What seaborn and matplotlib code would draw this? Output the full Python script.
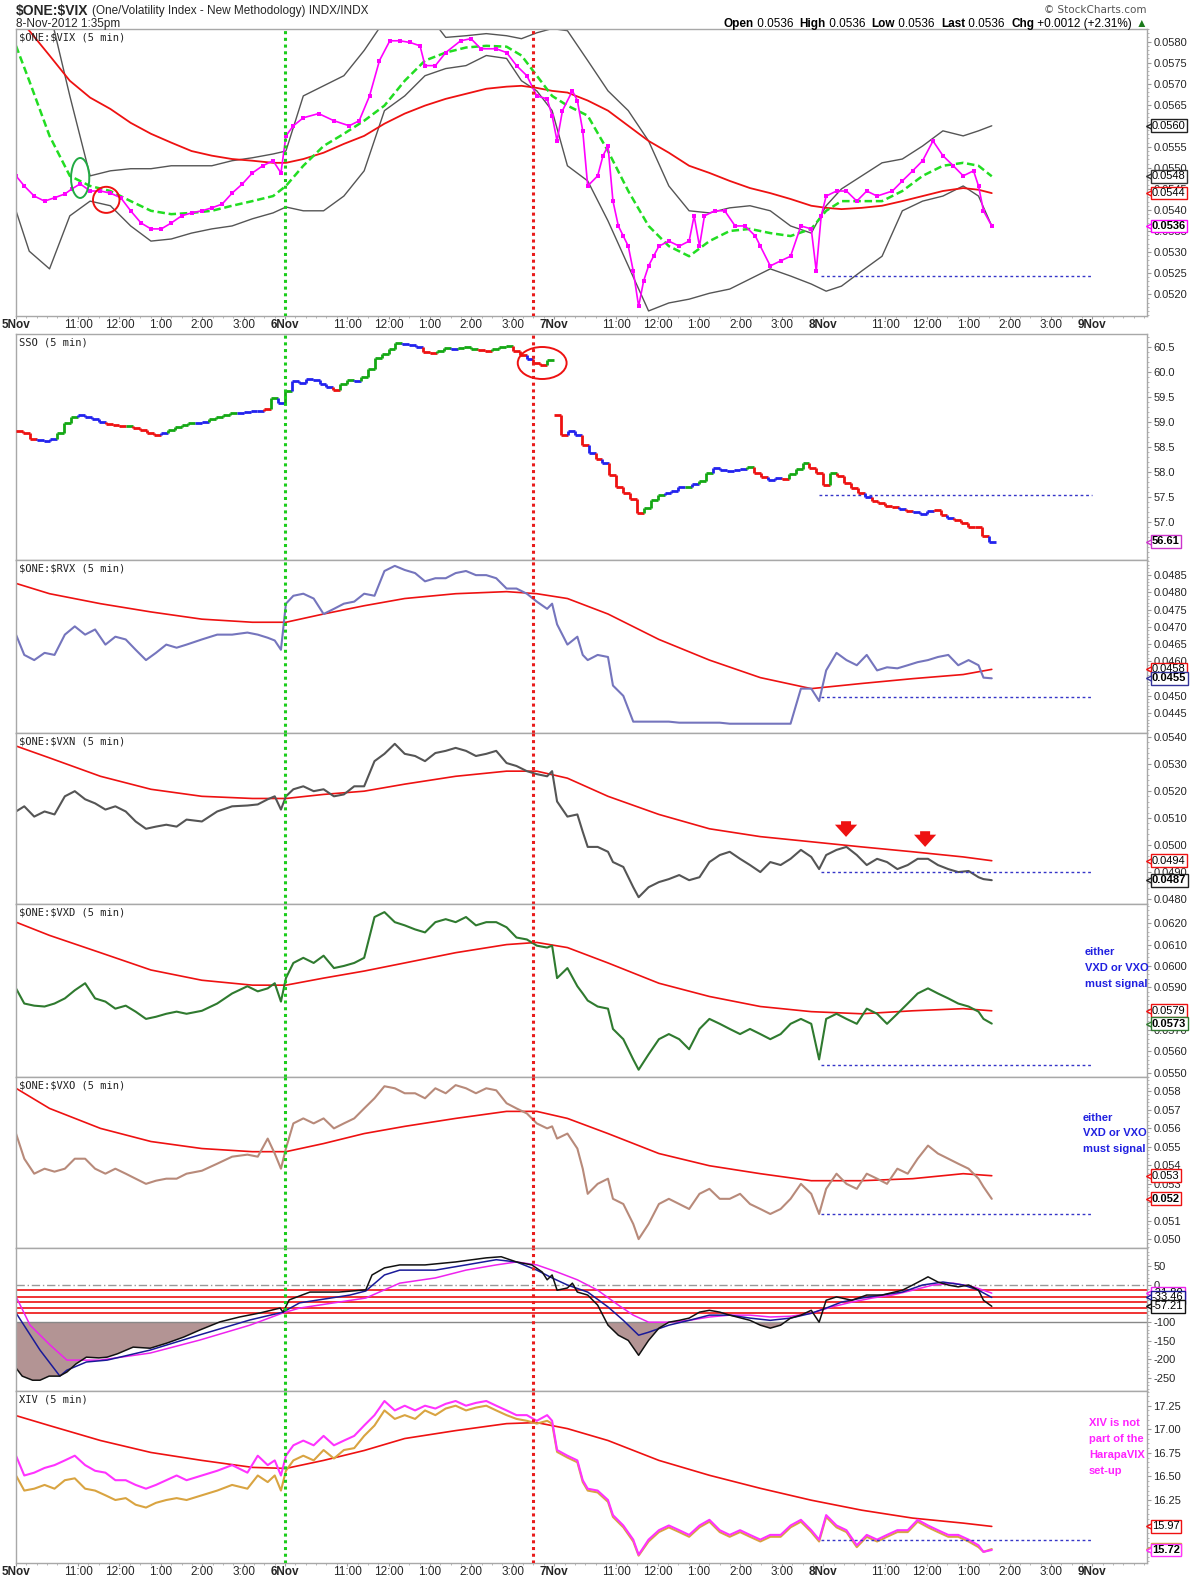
import numpy as np
import matplotlib
matplotlib.use("Agg")
import matplotlib.pyplot as plt
import matplotlib.transforms as mtransforms
from matplotlib.patches import Ellipse
from matplotlib.ticker import FixedLocator, AutoMinorLocator, MultipleLocator, FormatStrFormatter
import seaborn as sns

sns.set_theme(style="white")
plt.rcParams["font.family"] = ["Liberation Sans", "DejaVu Sans"]

# ---------------------------------------------------------------- data
DAY_LABELS = ["5Nov", "6Nov", "7Nov", "8Nov", "9Nov"]
HOUR_LABELS = ["11:00", "12:00", "1:00", "2:00", "3:00"]
HOUR_OFFSETS = [1.5, 2.5, 3.5, 4.5, 5.5]      # trading hours after 9:30
SESSION_HOURS = 6.5
XMAX = 27.32
GREEN_VLINE_T = 6.5
RED_VLINE_T = 12.5
SUPPORT_START_T = 19.45
SUPPORT_END_T = 26.0

HDR_OPEN, HDR_HIGH, HDR_LOW, HDR_LAST = 0.0536, 0.0536, 0.0536, 0.0536
HDR_CHG, HDR_CHG_PCT = 0.0012, 2.31

# ---- panel 1: $ONE:$VIX
VIX_T = [0, 0.20, 0.44, 0.69, 0.93, 1.18, 1.35, 1.55, 1.79, 2.04,
         2.28, 2.53, 2.77, 3.02, 3.26, 3.51, 3.75, 4.00, 4.24, 4.49,
         4.73, 4.98, 5.22, 5.47, 5.71, 5.96, 6.21, 6.40, 6.52, 6.70,
         6.94, 7.31, 7.68, 8.05, 8.29, 8.54, 8.78, 9.03, 9.27, 9.52,
         9.76, 9.88, 10.13, 10.38, 10.74, 10.99, 11.23, 11.60, 11.85, 12.09,
         12.34, 12.58, 12.83, 12.95, 13.07, 13.20, 13.44, 13.56, 13.69, 13.81,
         14.05, 14.18, 14.30, 14.42, 14.55, 14.67, 14.79, 14.91, 15.04, 15.16,
         15.28, 15.40, 15.53, 15.77, 16.02, 16.26, 16.38, 16.51, 16.63, 16.88,
         17.12, 17.37, 17.61, 17.86, 17.98, 18.22, 18.47, 18.71, 18.96, 19.21,
         19.33, 19.45, 19.57, 19.82, 20.06, 20.31, 20.55, 20.80, 21.17, 21.41,
         21.66, 21.90, 22.15, 22.39, 22.64, 22.88, 23.13, 23.25, 23.37, 23.57]
VIX_V = [.05481, .05457, .05433, .05421, .05429, .05438, .05450, .05462, .05445, .05445,
         .05440, .05429, .05398, .05369, .05355, .05355, .05369, .05386, .05393, .05398,
         .05405, .05414, .05440, .05462, .05488, .05505, .05517, .05488, .05576, .05600,
         .05619, .05629, .05612, .05600, .05612, .05671, .05755, .05802, .05802, .05798,
         .05790, .05743, .05743, .05774, .05802, .05807, .05783, .05783, .05774, .05743,
         .05719, .05671, .05664, .05624, .05564, .05636, .05683, .05660, .05588, .05457,
         .05481, .05529, .05552, .05421, .05362, .05338, .05314, .05255, .05171, .05231,
         .05267, .05290, .05314, .05326, .05314, .05326, .05386, .05314, .05386, .05398,
         .05398, .05362, .05362, .05338, .05314, .05267, .05279, .05290, .05362, .05355,
         .05255, .05386, .05433, .05445, .05445, .05421, .05445, .05433, .05445, .05469,
         .05493, .05517, .05564, .05529, .05505, .05481, .05493, .05457, .05398, .05362]
P1_T = [0, 0.32, 0.81, 1.30, 1.79, 2.28, 2.77, 3.26, 3.75, 4.24, 4.73, 5.22, 5.71, 6.21,
        6.52, 6.94, 7.43, 7.92, 8.41, 8.90, 9.39, 9.88, 10.38, 10.87, 11.36, 11.85, 12.21,
        12.58, 12.95, 13.32, 13.81, 14.30, 14.79, 15.28, 15.77, 16.26, 16.75, 17.24, 17.73,
        18.22, 18.71, 19.21, 19.57, 19.94, 20.43, 20.92, 21.41, 21.90, 22.39, 22.88, 23.25, 23.57]
VIX_MA20 = [.05790, .05707, .05576, .05481, .05457, .05445, .05421, .05398, .05390, .05393,
            .05398, .05410, .05421, .05433, .05457, .05505, .05552, .05581, .05612, .05648,
            .05707, .05755, .05774, .05786, .05790, .05788, .05767, .05719, .05671, .05648,
            .05624, .05540, .05445, .05362, .05314, .05290, .05326, .05350, .05355, .05345,
            .05338, .05355, .05398, .05421, .05421, .05421, .05445, .05481, .05505, .05512,
            .05505, .05480]
VIX_MA_LONG = [.05862, .05826, .05767, .05707, .05667, .05640, .05607, .05581, .05560, .05540,
               .05529, .05521, .05517, .05512, .05512, .05521, .05536, .05557, .05576, .05605,
               .05629, .05648, .05664, .05676, .05688, .05693, .05695, .05690, .05683, .05679,
               .05660, .05636, .05600, .05564, .05536, .05505, .05488, .05469, .05452, .05440,
               .05426, .05410, .05405, .05402, .05405, .05410, .05421, .05433, .05445, .05452,
               .05448, .05440]
VIX_BB_UP = [.05993, .05945, .05874, .05671, .05481, .05493, .05498, .05498, .05505, .05505,
             .05505, .05517, .05524, .05533, .05540, .05671, .05695, .05719, .05779, .05850,
             .05862, .05874, .05810, .05814, .05819, .05814, .05807, .05821, .05831, .05826,
             .05755, .05683, .05636, .05564, .05457, .05398, .05393, .05405, .05410, .05398,
             .05362, .05345, .05410, .05450, .05481, .05512, .05521, .05552, .05588, .05576,
             .05588, .05600]
VIX_BB_LO = [.05398, .05302, .05260, .05386, .05421, .05410, .05362, .05326, .05331, .05345,
             .05355, .05362, .05379, .05393, .05407, .05398, .05398, .05433, .05493, .05636,
             .05671, .05719, .05736, .05743, .05767, .05760, .05707, .05683, .05636, .05505,
             .05469, .05374, .05267, .05160, .05179, .05188, .05202, .05212, .05236, .05260,
             .05243, .05224, .05207, .05219, .05255, .05290, .05398, .05421, .05433, .05457,
             .05433, .05362]
VIX_SUPPORT = 0.05243

# ---- panel 2: SSO (10-minute samples, colour code per bar)
SSO_STEP_MIN = 10
SSO_V = [58.82, 58.78, 58.66, 58.64, 58.62, 58.66, 58.78, 58.98, 59.10, 59.14,
         59.10, 59.06, 59.00, 58.96, 58.94, 58.92, 58.92, 58.88, 58.84, 58.78,
         58.74, 58.78, 58.84, 58.90, 58.94, 58.98, 58.98, 59.00, 59.06, 59.10,
         59.14, 59.18, 59.18, 59.20, 59.22, 59.22, 59.26, 59.48, 59.38, 59.62,
         59.82, 59.78, 59.86, 59.84, 59.76, 59.70, 59.64, 59.76, 59.84, 59.82,
         59.90, 60.06, 60.28, 60.36, 60.46, 60.58, 60.56, 60.54, 60.50, 60.40,
         60.38, 60.42, 60.48, 60.46, 60.48, 60.50, 60.46, 60.44, 60.42, 60.46,
         60.50, 60.52, 60.42, 60.34, 60.26, 60.18, 60.14, 60.24, 59.14, 58.74,
         58.82, 58.74, 58.54, 58.38, 58.26, 58.18, 57.94, 57.70, 57.58, 57.46,
         57.18, 57.28, 57.44, 57.54, 57.58, 57.62, 57.70, 57.70, 57.76, 57.82,
         57.98, 58.08, 58.04, 58.02, 58.04, 58.06, 58.10, 57.98, 57.90, 57.84,
         57.88, 57.86, 57.96, 58.06, 58.18, 58.08, 57.98, 57.74, 57.98, 57.92,
         57.78, 57.68, 57.58, 57.50, 57.42, 57.38, 57.32, 57.30, 57.26, 57.22,
         57.20, 57.16, 57.22, 57.24, 57.14, 57.08, 57.04, 56.98, 56.90, 56.90,
         56.72, 56.61]
SSO_C = ("rrrbbbgggb" "bbbrrrgrrr" "rbggggbbgg" "ggbbbbrgbg" "bbbbbbrggb"
         "ggggggbbbr" "rggbgggrrg" "ggrrbrrgrr" "bbrbrbrrrr" "rgggbbbgbg"
         "gbbbbbgrrb" "brgggrrrgr" "rrrbrrrrbr" "bbbrrbrrrr" "rb")
SSO_SUPPORT = 57.54

# ---- common 101-point grid for the lower indicator panels (hours)
G_T = [0.00, 0.20, 0.44, 0.69, 0.93, 1.18, 1.42, 1.67, 1.91, 2.16,
       2.40, 2.65, 2.89, 3.14, 3.38, 3.63, 3.88, 4.12, 4.49, 4.86,
       5.22, 5.59, 5.84, 6.08, 6.25, 6.40, 6.52, 6.70, 6.94, 7.19,
       7.43, 7.68, 7.92, 8.17, 8.41, 8.66, 8.90, 9.15, 9.39, 9.64,
       9.88, 10.13, 10.38, 10.62, 10.87, 11.11, 11.36, 11.60, 11.85, 12.09,
       12.34, 12.58, 12.83, 12.95, 13.07, 13.32, 13.56, 13.69, 13.81, 14.05,
       14.30, 14.42, 14.67, 14.91, 15.04, 15.28, 15.53, 15.77, 16.02, 16.26,
       16.51, 16.75, 17.00, 17.24, 17.49, 17.73, 17.98, 18.22, 18.47, 18.71,
       18.96, 19.21, 19.40, 19.57, 19.82, 20.06, 20.31, 20.55, 20.80, 21.04,
       21.29, 21.54, 21.78, 22.03, 22.27, 22.52, 22.76, 23.01, 23.25, 23.37,
       23.57]
MA_T = [0, 0.81, 2.04, 3.26, 4.49, 5.71, 6.52, 7.43, 8.41, 9.39, 10.62, 11.85,
        12.58, 13.32, 14.30, 15.53, 16.75, 17.98, 19.21, 20.43, 21.66, 22.88, 23.57]

RVX_V = [.04677, .04618, .04603, .04624, .04618, .04677, .04701, .04677, .04692, .04648,
         .04671, .04663, .04633, .04603, .04624, .04648, .04639, .04648, .04663, .04677,
         .04677, .04683, .04677, .04668, .04660, .04633, .04767, .04790, .04796, .04782,
         .04737, .04752, .04767, .04773, .04796, .04790, .04862, .04877, .04865, .04856,
         .04832, .04841, .04841, .04856, .04862, .04850, .04850, .04841, .04811, .04811,
         .04796, .04773, .04752, .04767, .04707, .04648, .04671, .04618, .04603, .04618,
         .04612, .04529, .04499, .04424, .04424, .04424, .04424, .04424, .04421, .04421,
         .04421, .04421, .04421, .04418, .04418, .04418, .04418, .04418, .04418, .04418,
         .04520, .04520, .04484, .04573, .04624, .04603, .04588, .04618, .04573, .04582,
         .04579, .04588, .04597, .04603, .04612, .04618, .04588, .04603, .04588, .04552,
         .04550]
RVX_MA = [.04826, .04796, .04767, .04743, .04722, .04713, .04713, .04737, .04761, .04782,
          .04796, .04802, .04796, .04782, .04737, .04663, .04603, .04552, .04520, .04535,
          .04549, .04561, .04576]
RVX_SUPPORT = 0.04496

VXN_V = [.05124, .05143, .05105, .05124, .05113, .05180, .05199, .05169, .05154, .05131,
         .05143, .05124, .05087, .05060, .05068, .05075, .05068, .05094, .05087, .05124,
         .05143, .05146, .05150, .05169, .05180, .05131, .05180, .05206, .05217, .05199,
         .05206, .05180, .05187, .05217, .05217, .05310, .05337, .05374, .05337, .05329,
         .05310, .05340, .05348, .05359, .05348, .05329, .05337, .05348, .05303, .05292,
         .05273, .05262, .05254, .05273, .05161, .05105, .05113, .05049, .04993, .04993,
         .04975, .04937, .04919, .04844, .04807, .04844, .04863, .04874, .04889, .04870,
         .04881, .04937, .04963, .04975, .04949, .04926, .04900, .04937, .04926, .04949,
         .04982, .04956, .04911, .04963, .04982, .04993, .04963, .04926, .04949, .04937,
         .04911, .04926, .04949, .04949, .04926, .04911, .04900, .04904, .04881, .04874,
         .04870]
VXN_MA = [.05366, .05322, .05254, .05206, .05180, .05172, .05172, .05187, .05199, .05225,
          .05254, .05273, .05273, .05247, .05180, .05113, .05060, .05031, .05012, .04993,
          .04975, .04956, .04942]
VXN_SUPPORT = 0.04900
VXN_ARROW_T = [20.05, 21.96]
VXN_ARROW_TIP = [0.05030, 0.04993]
VXN_ARROW_TAIL = [0.05088, 0.05051]

VXD_V = [.05895, .05824, .05814, .05810, .05824, .05848, .05886, .05919, .05848, .05833,
         .05800, .05814, .05786, .05752, .05762, .05776, .05786, .05776, .05790, .05824,
         .05871, .05905, .05881, .05895, .05919, .05833, .05943, .06014, .06038, .06014,
         .06048, .05990, .06000, .06014, .06038, .06229, .06252, .06205, .06190, .06171,
         .06157, .06205, .06219, .06205, .06229, .06190, .06205, .06205, .06181, .06133,
         .06124, .06095, .06086, .06095, .05943, .05990, .05905, .05871, .05838, .05810,
         .05800, .05705, .05657, .05562, .05514, .05586, .05657, .05681, .05657, .05610,
         .05705, .05752, .05729, .05705, .05681, .05705, .05681, .05657, .05681, .05729,
         .05752, .05729, .05562, .05752, .05776, .05752, .05729, .05800, .05776, .05729,
         .05776, .05824, .05871, .05895, .05871, .05848, .05824, .05810, .05786, .05752,
         .05730]
VXD_MA = [.06205, .06143, .06062, .05981, .05933, .05910, .05910, .05943, .05976, .06014,
          .06062, .06100, .06110, .06086, .06014, .05919, .05857, .05810, .05786, .05776,
          .05790, .05800, .05790]
VXD_SUPPORT = 0.05538

VXO_V = [.05571, .05435, .05354, .05381, .05365, .05381, .05435, .05435, .05381, .05354,
         .05381, .05354, .05327, .05299, .05316, .05327, .05327, .05354, .05370, .05408,
         .05446, .05457, .05446, .05544, .05463, .05381, .05490, .05626, .05653, .05626,
         .05653, .05599, .05626, .05653, .05707, .05762, .05827, .05816, .05789, .05789,
         .05762, .05816, .05789, .05833, .05816, .05789, .05816, .05805, .05735, .05707,
         .05680, .05626, .05599, .05610, .05544, .05571, .05490, .05381, .05245, .05299,
         .05327, .05218, .05190, .05082, .05000, .05082, .05190, .05218, .05190, .05163,
         .05245, .05272, .05218, .05218, .05245, .05190, .05163, .05136, .05163, .05218,
         .05299, .05245, .05136, .05272, .05354, .05299, .05272, .05354, .05327, .05299,
         .05381, .05354, .05435, .05506, .05463, .05435, .05408, .05381, .05327, .05283,
         .05218]
VXO_MA = [.05816, .05707, .05599, .05528, .05490, .05473, .05473, .05517, .05571, .05610,
          .05653, .05691, .05691, .05653, .05571, .05463, .05397, .05354, .05316, .05316,
          .05327, .05354, .05343]
VXO_SUPPORT = 0.05136

# ---- panel 7: three oscillator lines and reference levels
BLK_T = [0.00, 0.15, 0.40, 0.58, 0.80, 1.05, 1.23, 1.45, 1.70, 2.00,
         2.20, 2.45, 2.83, 3.24, 3.65, 4.05, 4.44, 4.93, 5.40, 5.90,
         6.38, 6.45, 6.60, 7.10, 7.80, 8.45, 8.60, 8.90, 9.27, 9.88,
         10.62, 11.36, 11.72, 12.09, 12.46, 12.71, 12.83, 12.95, 13.07, 13.32,
         13.44, 13.56, 13.81, 14.05, 14.30, 14.55, 14.79, 15.04, 15.28, 15.53,
         15.77, 16.02, 16.26, 16.51, 16.75, 17.00, 17.24, 17.73, 17.98, 18.22,
         18.47, 18.71, 18.96, 19.21, 19.40, 19.57, 19.82, 20.19, 20.55, 20.92,
         21.41, 21.66, 21.90, 22.03, 22.27, 22.52, 22.76, 23.01, 23.25, 23.37,
         23.57]
BLK_V = [-223, -245, -256, -256, -245, -245, -234, -212, -194, -196,
         -194, -185, -167, -170, -156, -140, -121, -99, -86, -75,
         -62, -73, -40, -19, -19, -13, 27, 46, 54, 54,
         62, 73, 76, 62, 54, 35, 14, 27, -14, -8,
         5, -19, -27, -54, -108, -135, -149, -189, -149, -116,
         -100, -95, -89, -73, -68, -73, -81, -95, -108, -116,
         -108, -89, -81, -68, -100, -41, -32, -41, -27, -27,
         -14, 0, 14, 22, 8, 0, -5, 0, -14, -41,
         -57.21]
NAV_T = [0.00, 0.58, 1.06, 1.23, 1.70, 2.20, 3.24, 4.44, 5.65, 6.45,
         6.85, 8.07, 8.45, 8.90, 9.27, 10.13, 10.87, 11.60, 12.09, 12.58,
         12.95, 13.32, 13.81, 14.30, 14.67, 15.04, 15.28, 15.77, 16.26, 16.75,
         17.24, 17.73, 18.22, 18.71, 19.21, 19.57, 19.94, 20.43, 20.92, 21.41,
         21.90, 22.39, 22.88, 23.25, 23.57]
NAV_V = [-75, -175, -245, -229, -207, -202, -175, -134, -94, -73,
         -48, -27, -16, 27, 40, 40, 54, 68, 62, 40,
         19, 0, -19, -59, -95, -135, -127, -108, -95, -81,
         -81, -89, -95, -89, -76, -62, -46, -35, -27, -19,
         0, 8, 0, -14, -33.46]
MAG_T = [0.00, 0.34, 0.82, 1.23, 2.03, 3.24, 4.44, 5.65, 6.45, 6.85,
         8.45, 9.27, 10.13, 10.87, 11.60, 12.09, 12.58, 13.07, 13.56, 14.05,
         14.55, 14.91, 15.28, 15.77, 16.26, 16.75, 17.24, 17.73, 18.22, 18.71,
         19.21, 19.70, 20.19, 20.68, 21.17, 21.66, 22.15, 22.64, 23.13, 23.57]
MAG_V = [-31, -108, -161, -202, -202, -183, -148, -108, -75, -62,
         -35, 5, 19, 40, 54, 62, 54, 35, 14, -14,
         -54, -81, -100, -100, -95, -86, -81, -81, -86, -84,
         -76, -59, -46, -35, -27, -14, 0, 5, -5, -21.80]
OSC_RED_LEVELS = [-13, -31, -47, -61, -76]
OSC_BAND = -100

# ---- panel 8: XIV
XIV_V = [16.72, 16.51, 16.54, 16.59, 16.62, 16.67, 16.72, 16.62, 16.56, 16.54,
         16.46, 16.46, 16.41, 16.37, 16.41, 16.46, 16.51, 16.46, 16.51, 16.56,
         16.62, 16.54, 16.72, 16.62, 16.67, 16.51, 16.72, 16.83, 16.88, 16.83,
         16.93, 16.83, 16.88, 16.93, 17.04, 17.15, 17.30, 17.20, 17.25, 17.20,
         17.25, 17.22, 17.27, 17.30, 17.25, 17.28, 17.30, 17.25, 17.20, 17.15,
         17.15, 17.09, 17.15, 17.09, 16.78, 16.72, 16.67, 16.46, 16.37, 16.35,
         16.25, 16.09, 15.98, 15.83, 15.67, 15.83, 15.93, 15.98, 15.93, 15.88,
         15.98, 16.04, 15.93, 15.88, 15.93, 15.88, 15.83, 15.88, 15.88, 15.98,
         16.04, 15.93, 15.83, 16.09, 15.98, 15.93, 15.77, 15.88, 15.83, 15.88,
         15.93, 15.93, 16.04, 15.98, 15.93, 15.88, 15.88, 15.83, 15.77, 15.70,
         15.72]
XIV_GOLD = [16.51, 16.35, 16.37, 16.41, 16.37, 16.46, 16.48, 16.37, 16.35, 16.30,
            16.25, 16.27, 16.20, 16.17, 16.22, 16.25, 16.27, 16.25, 16.30, 16.35,
            16.41, 16.37, 16.51, 16.44, 16.51, 16.35, 16.56, 16.67, 16.72, 16.67,
            16.78, 16.69, 16.78, 16.80, 16.93, 17.04, 17.20, 17.11, 17.15, 17.11,
            17.20, 17.15, 17.22, 17.25, 17.20, 17.23, 17.25, 17.20, 17.15, 17.11,
            17.09, 17.06, 17.09, 17.06, 16.76, 16.70, 16.65, 16.44, 16.35, 16.33,
            16.23, 16.07, 15.96, 15.81, 15.66, 15.81, 15.91, 15.96, 15.91, 15.86,
            15.96, 16.02, 15.91, 15.86, 15.91, 15.86, 15.81, 15.86, 15.86, 15.96,
            16.02, 15.91, 15.81, 16.07, 15.96, 15.91, 15.75, 15.86, 15.81, 15.86,
            15.91, 15.91, 16.02, 15.96, 15.91, 15.86, 15.86, 15.81, 15.75, 15.70,
            15.73]
XIV_MA = [17.145, 17.039, 16.881, 16.754, 16.670, 16.596, 16.585, 16.670, 16.775, 16.902,
          16.986, 17.060, 17.071, 17.007, 16.881, 16.670, 16.512, 16.374, 16.248, 16.142,
          16.058, 16.005, 15.970]
XIV_SUPPORT = 15.83

# ---- axis ticks
P1_TICKS = [0.0520, 0.0525, 0.0530, 0.0535, 0.0540, 0.0545, 0.0550, 0.0555, 0.0560,
            0.0565, 0.0570, 0.0575, 0.0580]
SSO_TICKS = [57.0, 57.5, 58.0, 58.5, 59.0, 59.5, 60.0, 60.5]
RVX_TICKS = [0.0445, 0.0450, 0.0455, 0.0460, 0.0465, 0.0470, 0.0475, 0.0480, 0.0485]
VXN_TICKS = [0.0480, 0.0490, 0.0500, 0.0510, 0.0520, 0.0530, 0.0540]
VXD_TICKS = [0.0550, 0.0560, 0.0570, 0.0580, 0.0590, 0.0600, 0.0610, 0.0620]
VXO_TICKS = [0.050, 0.051, 0.052, 0.053, 0.054, 0.055, 0.056, 0.057, 0.058]
OSC_TICKS = [-250, -200, -150, -100, -50, 0, 50]
XIV_TICKS = [15.75, 16.00, 16.25, 16.50, 16.75, 17.00, 17.25]

# ---------------------------------------------------------------- figure
W, H = 1200, 1580
fig = plt.figure(figsize=(W / 100, H / 100), dpi=100, facecolor="white")
PANELS_PX = [(29, 316), (334, 560), (560, 733), (733, 904), (904, 1077),
             (1077, 1248), (1248, 1391), (1391, 1563)]
LEFT_PX, RIGHT_PX = 16, 1147
axs = []
for top, bot in PANELS_PX:
    ax = fig.add_axes([LEFT_PX / W, 1 - bot / H, (RIGHT_PX - LEFT_PX) / W, (bot - top) / H])
    ax.set_facecolor("white")
    for s in ax.spines.values():
        s.set_color("#a8a8a8")
        s.set_linewidth(1)
    axs.append(ax)

NARROW = ["Liberation Sans Narrow", "Liberation Sans", "DejaVu Sans"]


def line(ax, t, v, **kw):
    sns.lineplot(x=np.asarray(t, float), y=np.asarray(v, float), ax=ax,
                 estimator=None, sort=False, legend=False, **kw)


def x_axis(ax, show):
    ax.set_xlim(0, XMAX)
    pos, labs = [], []
    for d, dl in enumerate(DAY_LABELS):
        pos.append(d * SESSION_HOURS)
        labs.append(dl)
        for h, hl in zip(HOUR_OFFSETS, HOUR_LABELS):
            if d * SESSION_HOURS + h < XMAX:
                pos.append(d * SESSION_HOURS + h)
                labs.append(hl)
    if show:
        ax.set_xticks(pos, labels=labs)
        ax.xaxis.set_minor_locator(MultipleLocator(0.25))
        ax.tick_params(axis="x", which="major", bottom=True, length=2, width=0.8,
                       color="#999999", pad=0.5, labelsize=8.5)
        ax.tick_params(axis="x", which="minor", bottom=True, length=1.5, width=0.6,
                       color="#aaaaaa")
        for lab in ax.get_xticklabels():
            lab.set_family(NARROW)
            if "Nov" in lab.get_text():
                lab.set_fontweight("bold")
    else:
        ax.set_xticks([])
        ax.tick_params(axis="x", which="both", bottom=False, labelbottom=False)


def y_axis(ax, lo, hi, ticks, fmt):
    ax.set_ylim(lo, hi)
    ax.yaxis.tick_right()
    ax.set_yticks(ticks)
    ax.yaxis.set_major_formatter(FormatStrFormatter(fmt))
    ax.yaxis.set_minor_locator(AutoMinorLocator(5))
    ax.tick_params(axis="y", which="major", left=False, right=True, length=3, width=0.8,
                   color="#999999", labelsize=8, pad=1.5)
    ax.tick_params(axis="y", which="minor", left=False, right=True, length=1.5,
                   width=0.6, color="#aaaaaa")
    ax.set_xlabel("")
    ax.set_ylabel("")


def vmarks(ax):
    ax.axvline(GREEN_VLINE_T, color="#1ccc1c", lw=2.2, ls=(0, (1, 1.2)), zorder=6)
    ax.axvline(RED_VLINE_T, color="#e81c1c", lw=2.2, ls=(0, (1, 1.2)), zorder=6)


def support(ax, val, start=SUPPORT_START_T):
    ax.hlines(val, start, SUPPORT_END_T, colors="#3535c8", lw=1, linestyles=(0, (2, 2)), zorder=4)


def vbox(ax, val, fmt, ec, bold=False, z=20):
    tr = mtransforms.blended_transform_factory(ax.transAxes, ax.transData)
    ax.plot([1.003], [val], transform=tr, marker="<", ms=6, mfc="white", mec=ec, mew=1,
            clip_on=False, zorder=z - 0.5)
    ax.annotate(fmt % val, xy=(1.0, val), xycoords=tr, xytext=(3.6, 0),
                textcoords="offset points", ha="left", va="center", fontsize=8,
                fontweight="bold" if bold else "normal", color="black",
                bbox=dict(boxstyle="square,pad=0.12", fc="white", ec=ec, lw=1),
                annotation_clip=False, zorder=z)


def ptitle(ax, s):
    ax.annotate(s, xy=(0, 1), xycoords="axes fraction", xytext=(2.3, -5.8),
                textcoords="offset points", ha="left", va="center", fontsize=7.5,
                family="DejaVu Sans Mono", color="#222222", parse_math=False, zorder=30)


def ftext(xpx, ypx, s, **kw):
    return fig.text(xpx / W, 1 - ypx / H, s, **kw)


# ---------------- panel 1
ax = axs[0]
line(ax, P1_T, VIX_BB_UP, color="#555555", linewidth=1)
line(ax, P1_T, VIX_BB_LO, color="#555555", linewidth=1)
line(ax, P1_T, VIX_MA_LONG, color="#ee1111", linewidth=1.3)
line(ax, P1_T, VIX_MA20, color="#22dd22", linewidth=1.8, linestyle=(0, (3, 1.5)))
line(ax, VIX_T, VIX_V, color="#ff00ff", linewidth=1.2, marker="s", markersize=2.8,
     markeredgewidth=0)
support(ax, VIX_SUPPORT)
ax.add_patch(Ellipse((1.55, 0.05476), 0.44, 0.00095, fill=False, ec="#22aa44", lw=1.4, zorder=8))
ax.add_patch(Ellipse((2.18, 0.05424), 0.64, 0.00062, fill=False, ec="#ee1111", lw=1.4, zorder=8))
y_axis(ax, 0.05148, 0.05830, P1_TICKS, "%.4f")
x_axis(ax, True)
ptitle(ax, "$ONE:$VIX (5 min)")
vbox(ax, VIX_BB_UP[-1], "%.4f", "#222222")
vbox(ax, VIX_MA20[-1], "%.4f", "#333333")
vbox(ax, VIX_MA_LONG[-1], "%.4f", "#ee1111")
vbox(ax, VIX_V[-1], "%.4f", "#ff00ff", bold=True, z=24)

# ---------------- panel 2 SSO
ax = axs[1]
cmap = {"r": "#ee1111", "g": "#14a814", "b": "#2222ee"}
sso_v = np.asarray(SSO_V, float)
sso_t = np.arange(len(sso_v)) * SSO_STEP_MIN / 60.0
step = SSO_STEP_MIN / 60.0
cols = [cmap[c] for c in SSO_C]
ax.hlines(sso_v, sso_t, sso_t + step, colors=cols, lw=2, zorder=5)
jump = np.abs(np.diff(sso_v))
idx = np.where(jump < 0.6)[0] + 1
ax.vlines(sso_t[idx], sso_v[idx - 1], sso_v[idx], colors=[cols[i] for i in idx], lw=2, zorder=5)
support(ax, SSO_SUPPORT, start=19.40)
ax.add_patch(Ellipse((12.71, 60.18), 1.18, 0.64, fill=False, ec="#ee1111", lw=1.4, zorder=8))
y_axis(ax, 56.24, 60.76, SSO_TICKS, "%.1f")
x_axis(ax, False)
ptitle(ax, "SSO (5 min)")
vbox(ax, sso_v[-1], "%.2f", "#cc33cc", bold=True)

# ---------------- panels 3-6
specs = [
    (axs[2], RVX_V, RVX_MA, "#7575bd", RVX_SUPPORT, (0.04391, 0.04894), RVX_TICKS, "%.4f",
     "$ONE:$RVX (5 min)", "#333399"),
    (axs[3], VXN_V, VXN_MA, "#555555", VXN_SUPPORT, (0.04782, 0.05414), VXN_TICKS, "%.4f",
     "$ONE:$VXN (5 min)", "#222222"),
    (axs[4], VXD_V, VXD_MA, "#2f7a2f", VXD_SUPPORT, (0.05480, 0.06290), VXD_TICKS, "%.4f",
     "$ONE:$VXD (5 min)", "#2f7a2f"),
    (axs[5], VXO_V, VXO_MA, "#b88a7a", VXO_SUPPORT, (0.04952, 0.05877), VXO_TICKS, "%.3f",
     "$ONE:$VXO (5 min)", "#ee1111"),
]
for ax, vals, ma, col, sup, ylim, ticks, fmt, title, boxc in specs:
    line(ax, MA_T, ma, color="#ee1111", linewidth=1.2)
    line(ax, G_T, vals, color=col, linewidth=1.5)
    support(ax, sup)
    y_axis(ax, ylim[0], ylim[1], ticks, fmt)
    x_axis(ax, False)
    ptitle(ax, title)
    vbox(ax, ma[-1], fmt, "#ee1111")
    vbox(ax, vals[-1], fmt, boxc, bold=True, z=24)

for t, tip, tail in zip(VXN_ARROW_T, VXN_ARROW_TIP, VXN_ARROW_TAIL):
    axs[3].annotate("", xy=(t, tip), xytext=(t, tail),
                    arrowprops=dict(arrowstyle="simple,head_width=1.0,head_length=0.55,tail_width=0.45",
                                    mutation_scale=16, shrinkA=0, shrinkB=0,
                                    color="#ee1111", lw=0), zorder=9)

# ---------------- panel 7 oscillator
ax = axs[6]
bt = np.asarray(BLK_T, float)
bv = np.asarray(BLK_V, float)
ax.fill_between(bt, bv, OSC_BAND, where=bv < OSC_BAND, interpolate=True,
                color="#b39494", lw=0, zorder=1)
for lv in OSC_RED_LEVELS:
    ax.axhline(lv, color="#ee1111", lw=1.2, zorder=2)
ax.axhline(OSC_BAND, color="#888888", lw=1, zorder=2)
ax.axhline(0, color="#999999", lw=1, ls=(0, (6, 2, 1, 2)), zorder=2)
line(ax, MAG_T, MAG_V, color="#ee22ee", linewidth=1.1)
line(ax, NAV_T, NAV_V, color="#1a1a99", linewidth=1.1)
line(ax, BLK_T, BLK_V, color="#111111", linewidth=1.1)
y_axis(ax, -285, 99.5, OSC_TICKS, "%d")
x_axis(ax, False)
vbox(ax, MAG_V[-1], "%.2f", "#ee22ee")
vbox(ax, NAV_V[-1], "%.2f", "#1a1a99", z=22)
vbox(ax, BLK_V[-1], "%.2f", "#111111", z=24)

# ---------------- panel 8 XIV
ax = axs[7]
line(ax, MA_T, XIV_MA, color="#ee1111", linewidth=1.2)
line(ax, G_T, XIV_GOLD, color="#d9a441", linewidth=1.5)
line(ax, G_T, XIV_V, color="#ff33ff", linewidth=1.5)
support(ax, XIV_SUPPORT)
y_axis(ax, 15.582, 17.406, XIV_TICKS, "%.2f")
x_axis(ax, True)
ptitle(ax, "XIV (5 min)")
vbox(ax, XIV_MA[-1], "%.2f", "#ee1111")
vbox(ax, XIV_GOLD[-1], "%.2f", "#d9a441", z=22)
vbox(ax, XIV_V[-1], "%.2f", "#ff33ff", bold=True, z=24)

for ax in axs:
    vmarks(ax)

# ---------------- notes
for ypx, s in zip([952, 968, 984], ["either", "VXD or VXO", "must signal"]):
    ftext(1085, ypx, s, color="#2020e0", fontsize=8, fontweight="bold", va="center", zorder=40)
for ypx, s in zip([1118, 1133, 1149], ["either", "VXD or VXO", "must signal"]):
    ftext(1083, ypx, s, color="#2020e0", fontsize=8, fontweight="bold", va="center", zorder=40)
for ypx, s in zip([1423, 1439, 1455, 1471], ["XIV is not", "part of the", "HarapaVIX", "set-up"]):
    ftext(1089, ypx, s, color="#ff22ff", fontsize=8, fontweight="bold", va="center", zorder=40)

# ---------------- header
fig.canvas.draw()
rend = fig.canvas.get_renderer()
title_obj = ftext(16, 11, "$ONE:$VIX", fontsize=10, fontweight="bold", va="center",
                  family=["Liberation Sans", "DejaVu Sans"], parse_math=False)
tw = title_obj.get_window_extent(renderer=rend).width
ftext(16 + tw + 4, 11, "(One/Volatility Index - New Methodology) INDX/INDX", fontsize=8.5,
      va="center")
ftext(16, 24, "8-Nov-2012 1:35pm", fontsize=8.5, va="center")
ftext(1147, 10, "\u00a9 StockCharts.com", fontsize=7.5, color="#555555", ha="right",
      va="center", family=["DejaVu Sans"])

pieces = [("Open", True, "black"), (" %.4f  " % HDR_OPEN, False, "black"),
          ("High", True, "black"), (" %.4f  " % HDR_HIGH, False, "black"),
          ("Low", True, "black"), (" %.4f  " % HDR_LOW, False, "black"),
          ("Last", True, "black"), (" %.4f  " % HDR_LAST, False, "black"),
          ("Chg", True, "black"), (" %+.4f (%+.2f%%) " % (HDR_CHG, HDR_CHG_PCT), False, "black"),
          ("\u25b2", False, "#1a7a1a")]
objs, widths = [], []
for txt, bold, c in pieces:
    o = fig.text(0, 1 - 24 / H, txt, fontsize=8.5, fontweight="bold" if bold else "normal",
                 color=c, va="center", ha="left",
                 family=["Liberation Sans", "DejaVu Sans"])
    objs.append(o)
    widths.append(o.get_window_extent(renderer=rend).width)
x = 1147 - sum(widths)
for o, w in zip(objs, widths):
    o.set_x(x / W)
    x += w

fig.savefig("out.png", dpi=100, facecolor="white")
